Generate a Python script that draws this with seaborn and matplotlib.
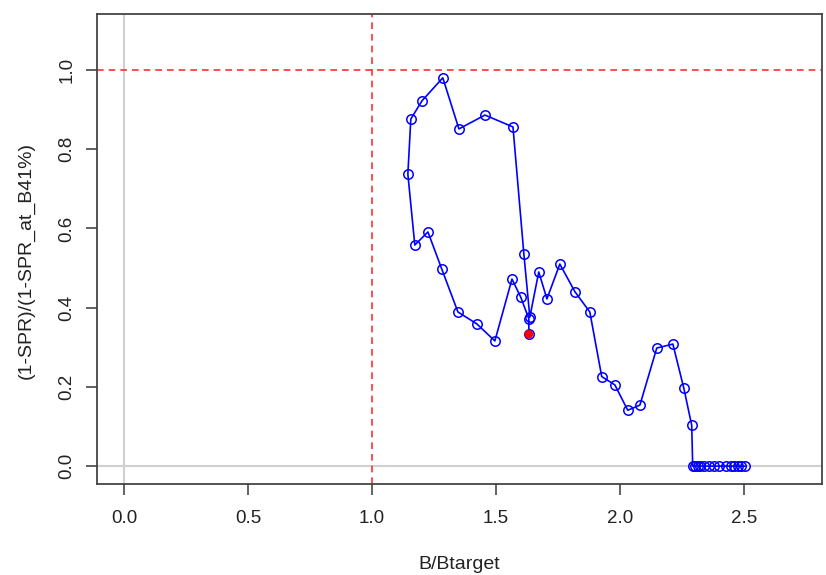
import matplotlib
matplotlib.use("Agg")
import matplotlib.pyplot as plt
import seaborn as sns
import pandas as pd

# Stock status trajectory: relative biomass vs relative fishing intensity, year by year
b_ratio = [2.505, 2.49, 2.475, 2.46, 2.45, 2.43, 2.40, 2.38, 2.36, 2.34, 2.325, 2.315, 2.305, 2.294,
           2.290, 2.258, 2.214, 2.149, 2.081, 2.032, 1.980, 1.927, 1.879, 1.819, 1.758, 1.706,
           1.673, 1.637, 1.613, 1.569, 1.456, 1.351, 1.286, 1.202, 1.157, 1.145, 1.173, 1.226,
           1.282, 1.347, 1.423, 1.496, 1.565, 1.600, 1.633, 1.633]
spr_ratio = [0.0, 0.0, 0.0, 0.0, 0.0, 0.0, 0.0, 0.0, 0.0, 0.0, 0.0, 0.0, 0.0, 0.0,
             0.103, 0.197, 0.308, 0.298, 0.154, 0.141, 0.205, 0.226, 0.389, 0.440, 0.510, 0.422,
             0.490, 0.376, 0.535, 0.856, 0.886, 0.851, 0.980, 0.922, 0.876, 0.737, 0.558, 0.591,
             0.497, 0.389, 0.359, 0.316, 0.472, 0.427, 0.372, 0.333]

x_ticks = [0.0, 0.5, 1.0, 1.5, 2.0, 2.5]
y_ticks = [0.0, 0.2, 0.4, 0.6, 0.8, 1.0]

df = pd.DataFrame({"b": b_ratio, "spr": spr_ratio})
last = df.iloc[[-1]]

sns.set_style("white")
plt.rcParams["font.family"] = ["Liberation Sans", "DejaVu Sans"]

fig = plt.figure(figsize=(8.26, 5.75), dpi=100)
ax = fig.add_axes([0.1174, 0.158, 0.8776, 0.8176])

# reference lines
ax.axvline(0, color="#d0d0d0", lw=1.5, zorder=1)
ax.axhline(0, color="#d0d0d0", lw=1.5, zorder=1)
ax.axvline(1, color="#ff3030", lw=1.2, ls=(0, (4, 3)), zorder=1)
ax.axhline(1, color="#ff3030", lw=1.2, ls=(0, (4, 3)), zorder=1)

sns.lineplot(data=df, x="b", y="spr", sort=False, estimator=None, ax=ax,
             color="#0000ff", lw=1.2, marker="o", markersize=6.8,
             markerfacecolor="none", markeredgecolor="#0000ff", markeredgewidth=1.1, zorder=3)
sns.scatterplot(data=last, x="b", y="spr", ax=ax, color="#ff0000", s=40,
                edgecolor="none", zorder=4)

ax.set_xlim(-0.109, 2.815)
ax.set_ylim(-0.0455, 1.141)
ax.set_xticks(x_ticks)
ax.set_xticklabels([f"{v:.1f}" for v in x_ticks])
ax.set_yticks(y_ticks)
ax.set_yticklabels([f"{v:.1f}" for v in y_ticks], rotation=90, va="center")

ax.tick_params(axis="both", direction="out", length=8, width=1.3, color="#555555",
               labelsize=13.5, labelcolor="#222222", bottom=True, left=True)
ax.tick_params(axis="x", pad=10.5)
ax.tick_params(axis="y", pad=7.5)
for s in ax.spines.values():
    s.set_visible(True)
    s.set_color("#444444")
    s.set_linewidth(1.3)

ax.set_xlabel("B/Btarget", fontsize=14, color="#222222", labelpad=21)
ax.set_ylabel("(1-SPR)/(1-SPR_at_B41%)", fontsize=14, color="#222222")
ax.yaxis.set_label_coords(-0.086, 0.4766)

fig.savefig("out.png", dpi=100)
